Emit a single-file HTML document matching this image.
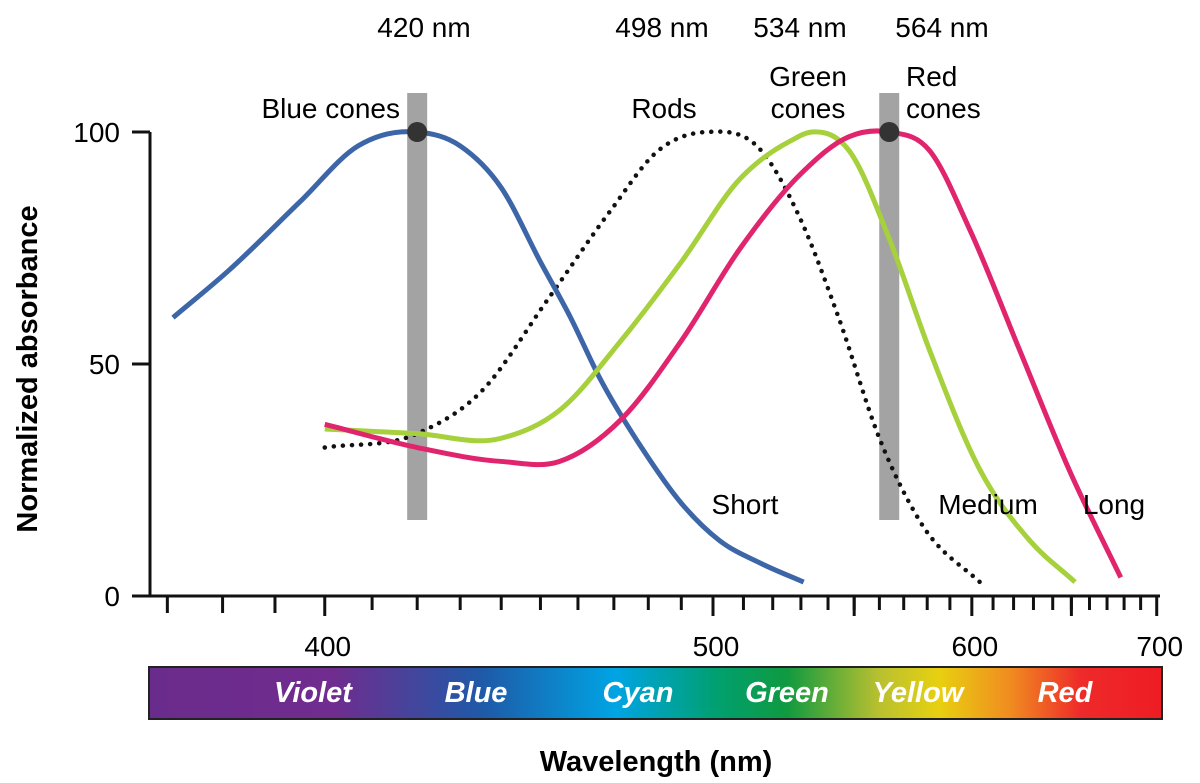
<!DOCTYPE html>
<html><head><meta charset="utf-8"><style>
html,body{margin:0;padding:0;background:#fff;}
svg{display:block;font-family:"Liberation Sans",Arial,sans-serif;}
</style></head><body>
<svg width="1200" height="783" viewBox="0 0 1200 783">
<defs>
<linearGradient id="spec" x1="149" x2="1162" gradientUnits="userSpaceOnUse">
<stop offset="0" stop-color="#6a2c8c"/>
<stop offset="0.18" stop-color="#702c8e"/>
<stop offset="0.33" stop-color="#1e5aa8"/>
<stop offset="0.46" stop-color="#00a4e4"/>
<stop offset="0.56" stop-color="#00a070"/>
<stop offset="0.63" stop-color="#109a40"/>
<stop offset="0.72" stop-color="#b8c030"/>
<stop offset="0.78" stop-color="#e8d010"/>
<stop offset="0.85" stop-color="#f08c20"/>
<stop offset="0.92" stop-color="#ee2a2a"/>
<stop offset="1" stop-color="#ee1c24"/>
</linearGradient>
</defs>
<g id="axes"></g>
<g id="bars"></g>
<g id="curves"></g>
<g id="labels"></g>
<rect x="149" y="667" width="1013" height="52" fill="url(#spec)" stroke="#222" stroke-width="2"/>
<g font-size="29" font-style="italic" font-weight="bold" fill="#fff" text-anchor="middle">
<text x="313" y="702">Violet</text>
<text x="476" y="702">Blue</text>
<text x="638" y="702">Cyan</text>
<text x="787" y="702">Green</text>
<text x="918" y="702">Yellow</text>
<text x="1065" y="702">Red</text>
</g>
<text x="656" y="771" font-size="29" font-weight="bold" text-anchor="middle">Wavelength (nm)</text>
<text transform="translate(37,369) rotate(-90)" font-size="29" font-weight="bold" text-anchor="middle">Normalized absorbance</text>
</svg>
<script>
const xMajorTicks=[400,500,600,700];
const xMinorTicks=[370,380,390,410,420,430,440,450,460,470,480,490,510,520,530,540,550,560,570,580,590,610,620,630,640,650,660,670,680,690];
const yTicks=[0,50,100];
const peakWavelengths=[420,498,534,564];
const blueLambda=[371,381,395,407,420,430,440,450,458,466,478,490,502,516,531];
const blueValues=[60,70,85,97,100,97,88,72,60,47,32,20,12,7,3];
const rodLambda=[400,420,435,452,469,483,498,516,530,544,560,577,606];
const rodValues=[32,35,44,64,83,96,100,96,81,60,34,16,2];
const greenLambda=[400,420,440,455,472,490,509,526,534,548,564,581,604,628,652];
const greenValues=[36,35,34,40,55,72,90,98,100,96,77,53,27,12,3];
const redLambda=[400,420,440,455,472,490,509,530,548,564,581,599,623,649,678];
const redValues=[37,32,29,29,38,55,75,91,99,100,96,79,53,27,4];
const NS='http://www.w3.org/2000/svg';
function X(l){return 2266-776.5*(1000/l);}
function Y(v){return 596-4.64*v;}
function mk(tag,attrs,parent){const e=document.createElementNS(NS,tag);for(const k in attrs)e.setAttribute(k,attrs[k]);parent.appendChild(e);return e;}
const axes=document.getElementById('axes');
let ax=mk('path',{d:'M150 132 V596 H1160',fill:'none',stroke:'#111','stroke-width':3},axes);


yTicks.forEach(v=>{
 let t=mk('line',{x1:132,x2:150,y1:Y(v),y2:Y(v),stroke:'#111','stroke-width':3},axes);
 
 
 let tx=mk('text',{x:120,y:Y(v)+10,'font-size':28,'text-anchor':'end'},axes);tx.textContent=v;
 
 
});
xMinorTicks.forEach(l=>{
 let t=mk('line',{x1:X(l),x2:X(l),y1:596,y2:(l<400?613:610),stroke:'#111','stroke-width':3},axes);
 
 
});
xMajorTicks.concat([550,650]).forEach(l=>{
 let t=mk('line',{x1:X(l),x2:X(l),y1:596,y2:616,stroke:'#111','stroke-width':3},axes);
 
 
});
xMajorTicks.forEach(l=>{
 let tx=mk('text',{x:X(l)+3,y:656,'font-size':28,'text-anchor':'middle'},axes);tx.textContent=l;
 
 
});
const bars=document.getElementById('bars');
[420,564].forEach(l=>{
 let r=mk('rect',{x:X(l)-10,y:93,width:20,height:427,fill:'#a3a3a3'},bars);
 
 
});
function smooth(ls,vs){
 const p=ls.map((l,i)=>[X(l),Y(vs[i])]);
 const n=p.length;
 const m=p.map((q,i)=>{
  if(i===0)return (p[1][1]-p[0][1])/(p[1][0]-p[0][0]);
  if(i===n-1)return (p[n-1][1]-p[n-2][1])/(p[n-1][0]-p[n-2][0]);
  const s0=(p[i][1]-p[i-1][1])/(p[i][0]-p[i-1][0]);
  const s1=(p[i+1][1]-p[i][1])/(p[i+1][0]-p[i][0]);
  const h0=p[i][0]-p[i-1][0],h1=p[i+1][0]-p[i][0];
  return (s0*h1+s1*h0)/(h0+h1);
 });
 let d='M'+p[0][0]+' '+p[0][1];
 for(let i=0;i<n-1;i++){
  const h=(p[i+1][0]-p[i][0])/3;
  d+=' C'+(p[i][0]+h)+' '+(p[i][1]+m[i]*h)+' '+(p[i+1][0]-h)+' '+(p[i+1][1]-m[i+1]*h)+' '+p[i+1][0]+' '+p[i+1][1];
 }
 return d;
}
const curves=document.getElementById('curves');
let c;
c=mk('path',{d:smooth(rodLambda,rodValues),fill:'none',stroke:'#111','stroke-width':4.5,'stroke-dasharray':'0.1 9','stroke-linecap':'round'},curves);


c=mk('path',{d:smooth(blueLambda,blueValues),fill:'none',stroke:'#3d66a8','stroke-width':5},curves);


c=mk('path',{d:smooth(greenLambda,greenValues),fill:'none',stroke:'#a6d03c','stroke-width':5},curves);


c=mk('path',{d:smooth(redLambda,redValues),fill:'none',stroke:'#e0256e','stroke-width':5},curves);


[420,564].forEach(l=>{
 let d=mk('circle',{cx:X(l),cy:Y(100),r:10,fill:'#333'},curves);
 
 
});
const lab=document.getElementById('labels');
function txt(s,x,y,anchor,name){let t=mk('text',{x:x,y:y,'font-size':28,'text-anchor':anchor||'middle'},lab);t.textContent=s;
 
 }
const peakX=[424,662,800,942];
peakWavelengths.forEach((l,i)=>txt(l+' nm',peakX[i],37,'middle','peak-label-'+l));
txt('Blue cones',400,118,'end','blue-cones-label');
txt('Rods',664,118,'middle','rods-label');
txt('Green',808,86,'middle','green-cones-label');
txt('cones',808,118,'middle','green-cones-label-2');
txt('Red',906,86,'start','red-cones-label');
txt('cones',906,118,'start','red-cones-label-2');
txt('Short',745,514,'middle','short-label');
txt('Medium',988,514,'middle','medium-label');
txt('Long',1114,514,'middle','long-label');
</script>
</body></html>
